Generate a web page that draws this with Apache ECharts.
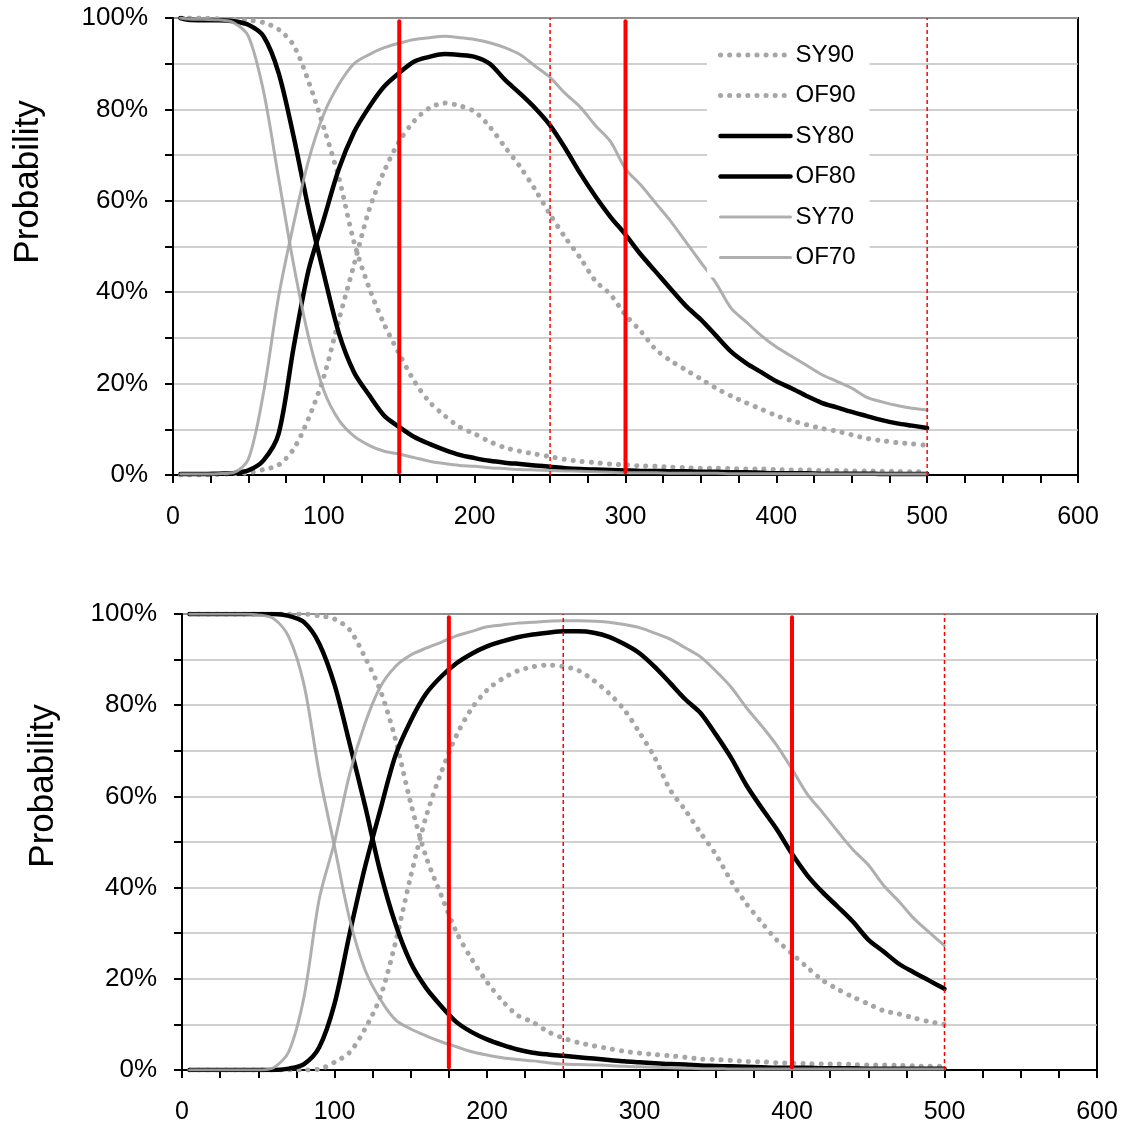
<!DOCTYPE html>
<html>
<head>
<meta charset="utf-8">
<script src="https://cdn.jsdelivr.net/npm/echarts@6/dist/echarts.min.js"></script>
<style>
html, body { margin: 0; padding: 0; background: #fff; }
#chart { width: 1123px; height: 1130px; }
</style>
</head>
<body>
<div id="chart"></div>
<script>
// x positions shared by every curve
var xs = [5,10,20,30,40,50,60,70,80,90,100,110,120,130,140,150,160,170,180,190,200,210,220,230,240,250,260,270,280,290,300,310,320,330,340,350,360,370,380,390,400,410,420,430,440,450,460,470,480,490,500];

// top panel
var sy90Top = [100,100,100,99.8,99.7,99.5,99,97.5,94,86,76,65,51,41,33,26.5,20.5,16,13,10.5,9,7.3,6,5.2,4.6,4,3.4,3,2.7,2.4,2.2,2,1.9,1.7,1.6,1.5,1.5,1.4,1.3,1.3,1.2,1.1,1.1,1,1,0.9,0.9,0.8,0.8,0.7,0.7];
var of90Top = [0,0,0,0.1,0.3,0.5,1.2,2.2,5.7,12.5,21.5,34,46,58,66.5,73,77.5,80.3,81.4,80.8,79.5,76.2,71.8,67.5,62.5,57,52,47.5,42.5,39.5,35,31.5,27.5,25,23,21,19,17.3,15.8,14.4,13,11.9,11,10.2,9.6,8.8,8,7.5,7.1,6.8,6.5];
var sy80Top = [100,99.6,99.5,99.5,99.3,98.5,96,88,74,58,44,31,22.5,17.5,13,10.5,8.3,6.8,5.5,4.4,3.7,3.1,2.7,2.4,2.1,1.8,1.5,1.3,1.2,1.1,1,0.9,0.9,0.8,0.8,0.7,0.7,0.6,0.6,0.5,0.4,0.4,0.4,0.3,0.3,0.3,0.3,0.2,0.2,0.2,0.2];
var of80Top = [0.2,0.2,0.2,0.3,0.4,1,3.2,9,28,45,56,67,75,80.5,85,88,90.5,91.5,92.1,91.9,91.5,90,86.5,83.5,80.3,76.5,71.5,66,61,56.5,52.6,48.3,44.5,40.7,37,34,30.5,27,24.5,22.5,20.5,19,17.3,15.8,14.8,13.8,12.9,12,11.3,10.8,10.3];
var sy70Top = [100,99.8,99.7,99.6,99,96,84,65,46,30,18.5,12,8.5,6.5,5.2,4.6,3.8,3,2.5,2.1,1.9,1.6,1.4,1.2,1.1,1,0.9,0.8,0.7,0.6,0.5,0.5,0.5,0.4,0.4,0.4,0.4,0.3,0.3,0.3,0.3,0.3,0.3,0.2,0.2,0.2,0.2,0.2,0.2,0.2,0.2];
var of70Top = [0.2,0.2,0.2,0.3,0.5,3.5,18,39,55,69,79,85.5,90,92,93.5,94.5,95.3,95.7,96,95.7,95.3,94.6,93.5,92,89.5,87,83.5,80.5,76.5,73,67,63.5,59.5,55.5,51,46.5,42,36.5,33.5,30.5,28,26,24,22,20.5,19,17,16,15.2,14.6,14.2];

// bottom panel
var sy90Bot = [100,100,100,100,100,100,100,100,100,99.6,98.9,96.5,90.5,83.3,72.5,58.5,46.8,38.3,30.2,24.3,19.3,15.2,12,10.5,8.4,7,6,5.3,4.7,4.1,3.7,3.4,3.1,2.8,2.4,2.3,2.1,1.9,1.8,1.6,1.5,1.4,1.3,1.3,1.2,1.1,1.1,1,0.9,0.8,0.8];
var of90Bot = [0,0,0,0,0,0,0,0,0,0.2,1.7,3.9,9,16,28,42.5,55.5,65.3,73.4,79.3,83.3,85.8,87.5,88.4,88.8,88.5,87.6,85.4,82.6,79,74,68.5,61.5,57,52,47.3,41.5,36.5,32.4,28.5,25.5,22.5,19.7,17.7,16,14.5,13,12.3,11.4,10.6,10];
var sy80Bot = [100,100,100,100,100,100,100,99.6,98.2,93.5,84.5,71.5,58,43.5,32,23.5,18,14,10.5,8.3,6.7,5.5,4.5,3.8,3.4,3.1,2.8,2.5,2.2,1.9,1.7,1.5,1.3,1.2,1,0.9,0.8,0.7,0.6,0.5,0.5,0.5,0.4,0.4,0.4,0.3,0.3,0.3,0.3,0.3,0.3];
var of80Bot = [0,0,0,0,0,0,0,0.3,1.3,5,14.5,30,44.5,57,69,76.6,82.5,86.3,89.2,91.3,92.9,94,94.9,95.5,95.9,96.2,96.2,95.9,95,93.4,91.4,88.4,84.9,81.3,78.3,73.6,68.5,62.5,57.5,52.8,47.4,42.7,39,35.8,32.5,28.6,26,23.3,21.4,19.6,17.8];
var sy70Bot = [100,100,100,100,100,99.8,99,95,84.5,65,49,33,22,15.5,11,9,7.5,6.2,5.1,4,3.3,2.7,2.3,2,1.6,1.3,1.2,1.1,1,0.8,0.7,0.6,0.5,0.4,0.3,0.3,0.2,0.2,0.2,0.2,0.2,0.2,0.2,0.2,0.2,0.2,0.2,0.2,0.2,0.2,0.2];
var of70Bot = [0,0,0,0,0,0,0.5,4,16,37.5,50,65,76,84,88.5,91,92.5,93.8,95.2,96.2,97.2,97.6,98,98.2,98.4,98.5,98.5,98.4,98.2,97.7,97,95.8,94.5,92.6,90.6,87.5,84,79.5,75.5,71.2,66,60.5,56.5,52.3,48.3,45,40.5,37,33.2,30.2,27.3];

// red marker lines (x values) and their vertical extents
var redSolidTop = [150, 300];
var redDashTop = [250, 500];
var redSolidBot = [175, 400];
var redDashBot = [250, 500];
var solidSpan = [0.6, 99.3];
var dashSpan = [0, 100];

var xTicks = [0, 600, 100];
var yTicks = [0, 100, 10];

var FONT = '"Liberation Sans", Arial, sans-serif';

var styles = {
  dot:   { color: '#a6a6a6', width: 5, type: [0.1, 9], cap: 'round' },
  black: { color: '#000000', width: 4.5, type: 'solid', cap: 'round', join: 'round' },
  gray:  { color: '#a6a6a6', width: 3, type: 'solid', cap: 'round', join: 'round', opacity: 0.9 }
};

function curve (name, arr, g, st) {
  return {
    name: name,
    type: 'line',
    xAxisIndex: g,
    yAxisIndex: g,
    data: xs.map(function (x, i) { return [x, arr[i]] }),
    showSymbol: false,
    symbol: 'none',
    smooth: 0.3,
    lineStyle: st,
    itemStyle: { color: st.color },
    emphasis: { disabled: true },
    silent: true,
    z: 3
  }
}

function redLines (vals, span, g, solid) {
  return vals.map(function (v) {
    return {
      type: 'line',
      xAxisIndex: g,
      yAxisIndex: g,
      data: [[v, span[0]], [v, span[1]]],
      showSymbol: false,
      symbol: 'none',
      lineStyle: solid
        ? { color: '#ff0000', width: 4, cap: 'round' }
        : { color: '#ff0000', width: 1.5, type: [4, 3] },
      emphasis: { disabled: true },
      silent: true,
      z: 5
    }
  })
}

function xAxisCfg (g) {
  return {
    gridIndex: g,
    type: 'value',
    min: xTicks[0],
    max: xTicks[1],
    interval: xTicks[2],
    axisLine: { show: true, onZero: false, lineStyle: { color: '#000', width: 2 } },
    axisTick: { show: true, length: 8, lineStyle: { color: '#000', width: 2 } },
    minorTick: { show: true, splitNumber: 4, length: 8, lineStyle: { color: '#000', width: 2 } },
    splitLine: { show: false },
    axisLabel: { fontSize: 25, color: '#000', margin: 30, fontFamily: FONT }
  }
}

function yAxisCfg (g) {
  return {
    gridIndex: g,
    type: 'value',
    min: yTicks[0],
    max: yTicks[1],
    interval: yTicks[2],
    axisLine: { show: true, lineStyle: { color: '#000', width: 2 } },
    axisTick: { show: true, length: 8, lineStyle: { color: '#000', width: 2 } },
    splitLine: { show: true, lineStyle: { color: '#c0c0c0', width: 1.5 } },
    axisLabel: {
      fontSize: 26, color: '#000', margin: 25, fontFamily: FONT,
      formatter: function (v) { return v % 20 === 0 ? v + '%' : '' }
    }
  }
}

var chart = echarts.init(document.getElementById('chart'))

var series = [
  curve('SY90', sy90Top, 0, styles.dot),
  curve('OF90', of90Top, 0, styles.dot),
  curve('SY80', sy80Top, 0, styles.black),
  curve('OF80', of80Top, 0, styles.black),
  curve('SY70', sy70Top, 0, styles.gray),
  curve('OF70', of70Top, 0, styles.gray),
  curve('SY90', sy90Bot, 1, styles.dot),
  curve('OF90', of90Bot, 1, styles.dot),
  curve('SY80', sy80Bot, 1, styles.black),
  curve('OF80', of80Bot, 1, styles.black),
  curve('SY70', sy70Bot, 1, styles.gray),
  curve('OF70', of70Bot, 1, styles.gray)
]
  .concat(redLines(redSolidTop, solidSpan, 0, true))
  .concat(redLines(redDashTop, dashSpan, 0, false))
  .concat(redLines(redSolidBot, solidSpan, 1, true))
  .concat(redLines(redDashBot, dashSpan, 1, false))

chart.setOption({
  animation: false,
  backgroundColor: '#fff',
  textStyle: { fontFamily: FONT },
  grid: [
    { left: 173, top: 18, width: 905, height: 457, show: true, borderColor: '#000', borderWidth: 2 },
    { left: 182, top: 614, width: 915, height: 456, show: true, borderColor: '#000', borderWidth: 2 }
  ],
  xAxis: [xAxisCfg(0), xAxisCfg(1)],
  yAxis: [yAxisCfg(0), yAxisCfg(1)],
  legend: {
    orient: 'vertical',
    left: 707,
    top: 37,
    data: ['SY90', 'OF90', 'SY80', 'OF80', 'SY70', 'OF70'],
    itemWidth: 70,
    itemHeight: 12,
    itemGap: 16.5,
    selectedMode: false,
    backgroundColor: '#fff',
    padding: [6, 14, 8, 11],
    itemStyle: { opacity: 0 },
    lineStyle: { width: 'inherit', type: 'inherit', cap: 'inherit' },
    textStyle: { fontSize: 24, color: '#000', fontFamily: FONT }
  },
  graphic: [
    { type: 'text', x: 28, y: 182, rotation: Math.PI / 2,
      style: { text: 'Probability', fontSize: 35, fontFamily: FONT, fill: '#000', align: 'center', verticalAlign: 'middle' } },
    { type: 'text', x: 43, y: 786, rotation: Math.PI / 2,
      style: { text: 'Probability', fontSize: 35, fontFamily: FONT, fill: '#000', align: 'center', verticalAlign: 'middle' } }
  ],
  series: series
})
</script>
</body>
</html>
